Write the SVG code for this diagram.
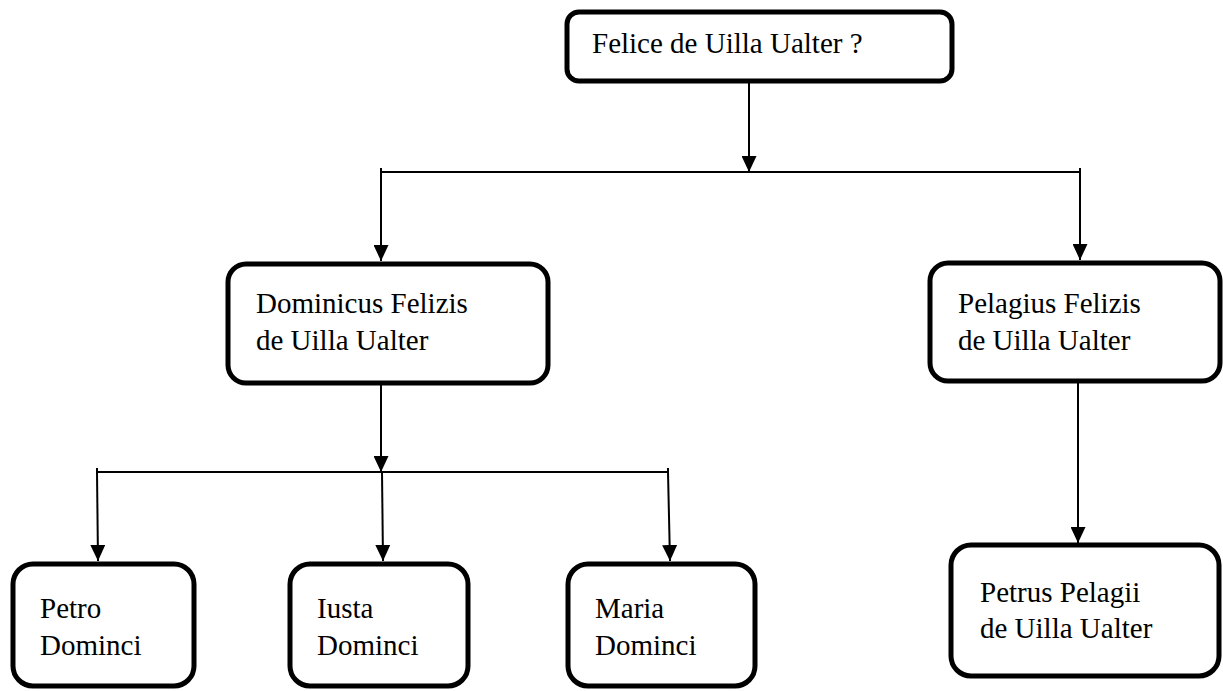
<svg xmlns="http://www.w3.org/2000/svg" width="1223" height="691" viewBox="0 0 1223 691">
<style>
.box{fill:#fff;stroke:#000;stroke-width:5}
.t{font-family:'Liberation Serif','DejaVu Serif',serif;font-size:29px;fill:#000}
.c{fill:none;stroke:#000;stroke-width:2}
</style>
<defs>
<marker id="ah" markerUnits="userSpaceOnUse" viewBox="0 0 16 15" markerWidth="16" markerHeight="15" refX="16" refY="7.5" orient="auto">
<path d="M0,0 L16,7.5 L0,15 Z" fill="#000"/>
</marker>
</defs>
<g id="connectors">
<line class="c" x1="749" y1="83" x2="749" y2="172" marker-end="url(#ah)"/>
<polyline class="c" points="381,168 381,172 1080,172 1080,168"/>
<line class="c" x1="381" y1="172" x2="381" y2="261" marker-end="url(#ah)"/>
<line class="c" x1="1080" y1="172" x2="1080" y2="260" marker-end="url(#ah)"/>
<line class="c" x1="381" y1="385" x2="381" y2="472" marker-end="url(#ah)"/>
<polyline class="c" points="97,468 97,472 668,472 668,468"/>
<line class="c" x1="97" y1="472" x2="98" y2="561" marker-end="url(#ah)"/>
<line class="c" x1="382" y1="472" x2="383" y2="561" marker-end="url(#ah)"/>
<line class="c" x1="668" y1="472" x2="670" y2="561" marker-end="url(#ah)"/>
<line class="c" x1="1078" y1="383" x2="1078" y2="543" marker-end="url(#ah)"/>
</g>
<g id="felice">
<rect class="box" x="567" y="12" width="385" height="69" rx="12"/>
<text class="t" font-family="Liberation Serif" x="592" y="53">Felice de Uilla Ualter ?</text>
</g>
<g id="dominicus">
<rect class="box" x="228" y="264" width="320" height="119" rx="18"/>
<text class="t" font-family="Liberation Serif" x="256" y="313">Dominicus Felizis</text>
<text class="t" font-family="Liberation Serif" x="256" y="350">de Uilla Ualter</text>
</g>
<g id="pelagius">
<rect class="box" x="930" y="263" width="290" height="118" rx="18"/>
<text class="t" font-family="Liberation Serif" x="958" y="313">Pelagius Felizis</text>
<text class="t" font-family="Liberation Serif" x="958" y="350">de Uilla Ualter</text>
</g>
<g id="petro">
<rect class="box" x="13" y="564" width="181" height="122" rx="20"/>
<text class="t" font-family="Liberation Serif" x="40" y="618">Petro</text>
<text class="t" font-family="Liberation Serif" x="40" y="655">Dominci</text>
</g>
<g id="iusta">
<rect class="box" x="290" y="564" width="178" height="122" rx="20"/>
<text class="t" font-family="Liberation Serif" x="317" y="618">Iusta</text>
<text class="t" font-family="Liberation Serif" x="317" y="655">Dominci</text>
</g>
<g id="maria">
<rect class="box" x="568" y="564" width="187" height="122" rx="20"/>
<text class="t" font-family="Liberation Serif" x="595" y="618">Maria</text>
<text class="t" font-family="Liberation Serif" x="595" y="655">Dominci</text>
</g>
<g id="petrus">
<rect class="box" x="951" y="545" width="268" height="131" rx="20"/>
<text class="t" font-family="Liberation Serif" x="980" y="602">Petrus Pelagii</text>
<text class="t" font-family="Liberation Serif" x="980" y="638">de Uilla Ualter</text>
</g>
</svg>
